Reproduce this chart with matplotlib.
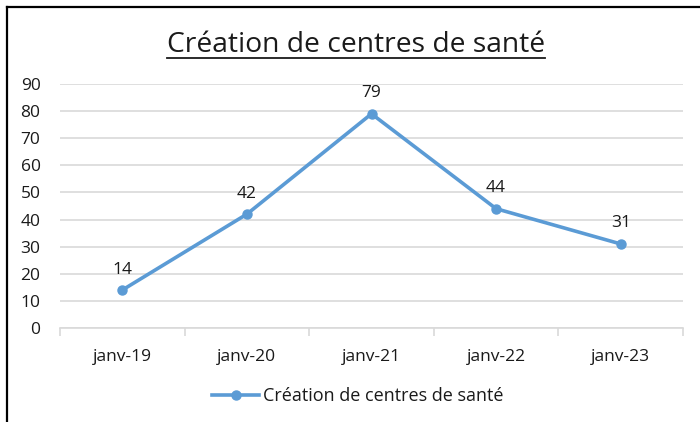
import matplotlib
matplotlib.use("Agg")
import matplotlib.pyplot as plt
from matplotlib.lines import Line2D

categories = ["janv-19", "janv-20", "janv-21", "janv-22", "janv-23"]
values = [14, 42, 79, 44, 31]
yticks = [0, 10, 20, 30, 40, 50, 60, 70, 80, 90]
series_name = "Création de centres de santé"
title = "Création de centres de santé"

plt.rcParams['font.family'] = ['Open Sans', 'DejaVu Sans']
W, H = 700, 422
fig = plt.figure(figsize=(W/100, H/100), dpi=100)
ax = fig.add_axes([60/W, 1-328/H, (683-60)/W, (328-84)/H])

color = "#5B9BD5"
fs = 12.5
x = list(range(len(categories)))
ax.plot(x, values, color=color, lw=2.6, marker="o", ms=6.5, label=series_name,
        solid_capstyle="round", zorder=3)
for xi, v in zip(x, values):
    ax.annotate(str(v), (xi, v), xytext=(0, 9), textcoords="offset points",
                ha="center", va="bottom", fontsize=fs, color="#1a1a1a")

ax.set_xlim(-0.5, len(categories)-0.5)
ax.set_ylim(0, 90)
ax.set_yticks(yticks)
ax.set_yticklabels([str(t) for t in yticks], fontsize=fs, color="#1a1a1a")
ax.grid(axis="y", color="#d9d9d9", lw=1.2)
ax.set_axisbelow(True)
for s in ["top", "right", "left"]:
    ax.spines[s].set_visible(False)
ax.spines["bottom"].set_color("#d9d9d9")
ax.spines["bottom"].set_linewidth(1.2)
ax.tick_params(axis="y", length=0, pad=14)
ax.set_xticks([i - 0.5 for i in range(len(categories)+1)], minor=False)
ax.set_xticklabels([""]*(len(categories)+1))
ax.tick_params(axis="x", which="major", length=6, color="#d9d9d9", width=1.2)
ax.set_xticks(x, minor=True)
ax.set_xticklabels(categories, minor=True, fontsize=fs, color="#1a1a1a")
ax.tick_params(axis="x", which="minor", length=0, pad=15)

# title with underline
t = fig.text(356/W, 1-45/H, title, ha="center", va="center", fontsize=20.3, color="#1a1a1a")
fig.canvas.draw()
bb = t.get_window_extent()
fig.add_artist(Line2D([bb.x0/W, bb.x1/W], [1-58/H, 1-58/H], color="#1a1a1a", lw=1.3,
                      transform=fig.transFigure))

leg = fig.legend(handles=[Line2D([], [], color=color, lw=2.6, marker="o", ms=6.5)],
                 labels=[series_name], loc="center", bbox_to_anchor=(358/W, 1-396/H),
                 frameon=False, fontsize=13, handlelength=2.6, handletextpad=0.2)
for txt in leg.get_texts():
    txt.set_color("#1a1a1a")

# border (top and left)
fig.add_artist(Line2D([7/W, 1], [1-7/H, 1-7/H], color="black", lw=1.6, transform=fig.transFigure))
fig.add_artist(Line2D([7/W, 7/W], [0, 1-7/H], color="black", lw=1.6, transform=fig.transFigure))

fig.savefig("out.png", dpi=100)
